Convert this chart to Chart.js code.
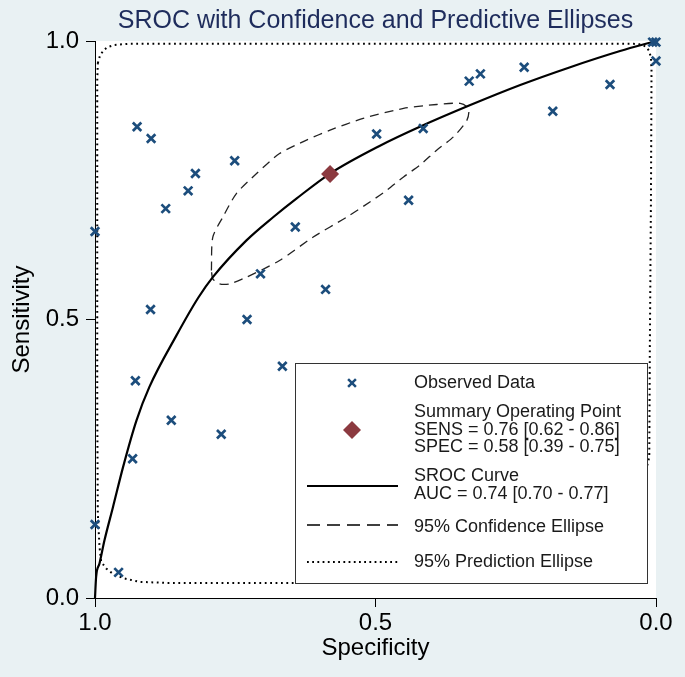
<!DOCTYPE html>
<html>
<head>
<meta charset="utf-8">
<script src="https://cdn.jsdelivr.net/npm/chart.js@4.4.1/dist/chart.umd.min.js"></script>
<style>
html,body{margin:0;padding:0;background:#e9f1f3;}
#wrap{width:685px;height:677px;}
</style>
</head>
<body>
<div id="wrap"><canvas id="c" width="685" height="677"></canvas></div>
<script>
// ---------- data ----------
const tickValues = [0, 0.5, 1];

const specObserved = [1.000, 1.000, 0.958, 0.933, 0.928, 0.901, 0.925, 0.900, 0.874, 0.864,
                      0.834, 0.821, 0.751, 0.775, 0.729, 0.705, 0.666, 0.643, 0.589, 0.498,
                      0.441, 0.415, 0.333, 0.313, 0.235, 0.184, 0.082, 0.006, 0.000, 0.000];
const sensObserved = [0.658, 0.132, 0.046, 0.250, 0.390, 0.518, 0.846, 0.825, 0.699, 0.319,
                      0.731, 0.762, 0.785, 0.294, 0.500, 0.582, 0.416, 0.666, 0.554, 0.833,
                      0.714, 0.843, 0.928, 0.941, 0.953, 0.874, 0.922, 0.998, 0.998, 0.964];

const summarySpec = [0.581];
const summarySens = [0.761];

const srocSpec = [1.000, 0.998, 0.992, 0.983, 0.968, 0.950, 0.926, 0.903, 0.855, 0.816,
                  0.790, 0.730, 0.682, 0.641, 0.581, 0.492, 0.421, 0.331, 0.242, 0.153, 0.064, 0.000];
const srocSens = [0.000, 0.038, 0.062, 0.104, 0.163, 0.235, 0.319, 0.379, 0.471, 0.539,
                  0.576, 0.642, 0.684, 0.717, 0.762, 0.812, 0.846, 0.885, 0.921, 0.953, 0.982, 1.000];

const confSpec = [0.7925, 0.790, 0.772, 0.748, 0.712, 0.671, 0.623, 0.581, 0.522, 0.450,
                  0.391, 0.349, 0.334, 0.337, 0.361, 0.391, 0.421, 0.450, 0.480, 0.510,
                  0.551, 0.611, 0.671, 0.730, 0.760, 0.778, 0.790, 0.7925];
const confSens = [0.588, 0.648, 0.684, 0.726, 0.762, 0.798, 0.822, 0.840, 0.861, 0.879,
                  0.886, 0.888, 0.879, 0.858, 0.828, 0.804, 0.777, 0.756, 0.732, 0.711,
                  0.684, 0.648, 0.606, 0.576, 0.564, 0.564, 0.573, 0.588];

const predSpec = [0.995, 0.991, 0.985, 0.978, 0.965, 0.940, 0.500, 0.040, 0.028, 0.018,
                  0.012, 0.009, 0.008, 0.009, 0.011, 0.012, 0.025, 0.040, 0.070, 0.130,
                  0.300, 0.500, 0.635, 0.800, 0.871, 0.921, 0.947, 0.965, 0.980, 0.989,
                  0.992, 0.995, 0.996, 0.996, 0.996, 0.995];
const predSens = [0.960, 0.974, 0.983, 0.989, 0.993, 0.995, 0.995, 0.995, 0.994, 0.990,
                  0.982, 0.970, 0.947, 0.714, 0.445, 0.253, 0.200, 0.110, 0.060, 0.040,
                  0.033, 0.029, 0.027, 0.027, 0.027, 0.029, 0.035, 0.041, 0.053, 0.065,
                  0.092, 0.152, 0.355, 0.714, 0.929, 0.960];

const legendObserved = ['Observed Data'];
const legendSummary = ['Summary Operating Point', 'SENS = 0.76 [0.62 - 0.86]', 'SPEC = 0.58 [0.39 - 0.75]'];
const legendSroc = ['SROC Curve', 'AUC = 0.74 [0.70 - 0.77]'];
const legendConf = ['95% Confidence Ellipse'];
const legendPred = ['95% Prediction Ellipse'];

// ---------- build ----------
const FONT = "'Liberation Sans', Arial, Helvetica, sans-serif";
const pts = (xs, ys) => xs.map((x, i) => ({x: x, y: ys[i]}));
const OBS_COLOR = '#1c4d7c';
const SUM_COLOR = '#8c3a40';

const bgPlugin = {
  id: 'bg',
  beforeDraw(chart) {
    const {ctx, chartArea: a} = chart;
    ctx.save();
    ctx.fillStyle = '#e9f1f3';
    ctx.fillRect(0, 0, chart.width, chart.height);
    ctx.fillStyle = '#ffffff';
    ctx.fillRect(a.left, a.top, a.right - a.left, a.bottom - a.top);
    ctx.restore();
  }
};

const legendPlugin = {
  id: 'statalegend',
  afterDatasetsDraw(chart) {
    const {ctx, chartArea: a} = chart;
    const L = a.left + 200, T = a.top + 322, W = 352, H = 220;
    ctx.save();
    ctx.fillStyle = '#ffffff';
    ctx.fillRect(L, T, W, H);
    ctx.strokeStyle = '#333333';
    ctx.lineWidth = 1;
    ctx.strokeRect(L + 0.5, T + 0.5, W, H);

    const sx = L + 57;          // symbol centre
    const lx0 = L + 12, lx1 = L + 103;
    const tx = L + 119;
    const lh = 17.5;
    ctx.font = '18px ' + FONT;
    ctx.fillStyle = '#1a1a1a';
    ctx.textBaseline = 'middle';
    ctx.textAlign = 'left';
    const text = (lines, yc) => {
      const y0 = yc - (lines.length - 1) * lh / 2;
      lines.forEach((s, i) => ctx.fillText(s, tx, y0 + i * lh));
    };

    // observed
    let yc = T + 20;
    ctx.strokeStyle = OBS_COLOR; ctx.lineWidth = 2.5;
    ctx.beginPath();
    const d = 3.9;
    ctx.moveTo(sx - d, yc - d); ctx.lineTo(sx + d, yc + d);
    ctx.moveTo(sx + d, yc - d); ctx.lineTo(sx - d, yc + d);
    ctx.stroke();
    text(legendObserved, yc);

    // summary
    yc = T + 67;
    ctx.fillStyle = SUM_COLOR;
    ctx.beginPath();
    ctx.moveTo(sx - 9, yc); ctx.lineTo(sx, yc - 9); ctx.lineTo(sx + 9, yc); ctx.lineTo(sx, yc + 9);
    ctx.closePath(); ctx.fill();
    ctx.fillStyle = '#1a1a1a';
    text(legendSummary, yc);

    // sroc
    yc = T + 123;
    ctx.strokeStyle = '#000'; ctx.lineWidth = 2; ctx.setLineDash([]);
    ctx.beginPath(); ctx.moveTo(lx0, yc); ctx.lineTo(lx1, yc); ctx.stroke();
    text(legendSroc, yc - 1);

    // confidence
    yc = T + 162;
    ctx.lineWidth = 1.3; ctx.setLineDash([13, 7]);
    ctx.beginPath(); ctx.moveTo(lx0, yc); ctx.lineTo(lx1, yc); ctx.stroke();
    text(legendConf, yc + 2);

    // prediction
    yc = T + 199;
    ctx.lineWidth = 1.8; ctx.setLineDash([1.8, 3.4]);
    ctx.beginPath(); ctx.moveTo(lx0, yc); ctx.lineTo(lx1, yc); ctx.stroke();
    ctx.setLineDash([]);
    text(legendPred, yc);
    ctx.restore();
  }
};

const axisCommon = {
  type: 'linear',
  min: 0, max: 1,
  afterBuildTicks: s => { s.ticks = tickValues.map(v => ({value: v})); },
  grid: {drawOnChartArea: false, drawTicks: true, tickLength: 9, color: '#000', tickWidth: 1},
  border: {display: true, color: '#000', width: 1},
};

new Chart(document.getElementById('c'), {
  type: 'scatter',
  data: {
    datasets: [
      {label: 'Observed Data', data: pts(specObserved, sensObserved), pointStyle: 'crossRot',
       pointRadius: 6, pointBorderWidth: 2.7, borderColor: OBS_COLOR, backgroundColor: OBS_COLOR,
       showLine: false, clip: false},
      {label: 'Summary Operating Point', data: pts(summarySpec, summarySens), pointStyle: 'rectRot',
       pointRadius: 9, pointBorderWidth: 0, borderColor: SUM_COLOR, backgroundColor: SUM_COLOR,
       showLine: false, clip: false},
      {label: 'SROC Curve', data: pts(srocSpec, srocSens), showLine: true, pointRadius: 0,
       borderColor: '#000', borderWidth: 2.2, cubicInterpolationMode: 'monotone', fill: false, clip: false},
      {label: '95% Confidence Ellipse', data: pts(confSpec, confSens), showLine: true, pointRadius: 0,
       borderColor: '#222', borderWidth: 1.3, borderDash: [9, 6], tension: 0.25, fill: false, clip: false},
      {label: '95% Prediction Ellipse', data: pts(predSpec, predSens), showLine: true, pointRadius: 0,
       borderColor: '#000', borderWidth: 2, borderDash: [1.8, 3.6], tension: 0, fill: false, clip: false}
    ]
  },
  options: {
    responsive: false,
    animation: false,
    devicePixelRatio: 1,
    layout: {padding: {left: 0, top: 0, right: 29, bottom: 0}},
    plugins: {
      legend: {display: false},
      tooltip: {enabled: false},
      title: {
        display: true, fullSize: false,
        text: 'SROC with Confidence and Predictive Ellipses',
        color: '#1e2c5c',
        font: {family: FONT, size: 25, weight: 'normal', lineHeight: 1.2},
        padding: {top: 6, bottom: 5}
      }
    },
    scales: {
      x: Object.assign({}, axisCommon, {
        position: 'bottom', reverse: true,
        ticks: {callback: v => Number(v).toFixed(1), font: {family: FONT, size: 24, lineHeight: 1.2},
                color: '#000', padding: 2, maxRotation: 0, autoSkip: false},
        title: {display: true, text: 'Specificity', color: '#000',
                font: {family: FONT, size: 24, lineHeight: 1.2}, padding: {top: 0, bottom: 14}},
        afterFit: s => { s.height = 79; }
      }),
      y: Object.assign({}, axisCommon, {
        position: 'left',
        ticks: {callback: v => Number(v).toFixed(1), font: {family: FONT, size: 24, lineHeight: 1.2},
                color: '#000', padding: 7, autoSkip: false},
        title: {display: true, text: 'Sensitivity', color: '#000',
                font: {family: FONT, size: 24, lineHeight: 1.2}, padding: {top: 8, bottom: 0}},
        afterFit: s => { s.width = 95; }
      })
    }
  },
  plugins: [bgPlugin, legendPlugin]
});
</script>
</body>
</html>
